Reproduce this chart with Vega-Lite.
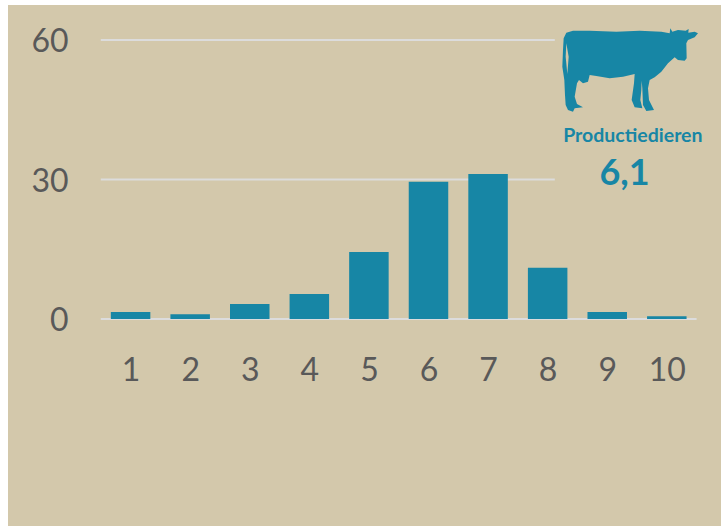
{"$schema":"https://vega.github.io/schema/vega-lite/v6.json","width":713,"height":521,"autosize":"none","padding":{"left":8,"top":5,"right":0,"bottom":0},"background":"#ffffff","view":{"fill":"#d3c8ab","stroke":null},"config":{"font":"Lato"},"datasets":{"bars":[{"k":1,"v":1.5},{"k":2,"v":1},{"k":3,"v":3.2},{"k":4,"v":5.4},{"k":5,"v":14.4},{"k":6,"v":29.5},{"k":7,"v":31.2},{"k":8,"v":11},{"k":9,"v":1.5},{"k":10,"v":0.6}],"grid":[{"from":0.5,"to":8.12,"y":60},{"from":0.5,"to":8.12,"y":30},{"from":0.5,"to":10.5,"y":0}]},"layer":[{"data":{"name":"grid"},"mark":{"type":"rule","color":"#dcdcdc","strokeWidth":1.8},"encoding":{"x":{"field":"from","type":"quantitative","scale":{"domain":[0.5,10.5],"range":[92.8,688.6],"padding":0,"nice":false,"zero":false},"axis":{"values":[1,2,3,4,5,6,7,8,9,10],"format":"d","title":null,"domain":false,"ticks":false,"grid":false,"labelFont":"Lato","labelFontSize":32,"labelColor":"#595959","labelPadding":-156,"labelBaseline":"middle","labelFlush":false,"labelOverlap":false}},"x2":{"field":"to"},"y":{"field":"y","type":"quantitative","scale":{"domain":[0,60],"range":[314,35]},"axis":{"values":[0,30,60],"title":null,"domain":false,"ticks":false,"grid":false,"labelFont":"Lato","labelFontSize":32,"labelColor":"#595959","labelPadding":-60,"labelAlign":"right","labelBaseline":"middle","labelOffset":1.5,"labelFlush":false,"labelOverlap":false}}}},{"data":{"name":"bars"},"mark":{"type":"bar","color":"#1786a5","width":39.5},"encoding":{"x":{"field":"k","type":"quantitative"},"y":{"field":"v","type":"quantitative"}}},{"data":{"values":[{"label":"Productiedieren"}]},"mark":{"type":"text","font":"Lato","fontWeight":"bold","fontSize":19.5,"color":"#1786a5","align":"center","baseline":"middle"},"encoding":{"text":{"field":"label"},"x":{"datum":9.43},"y":{"datum":39.4}}},{"data":{"values":[{"label":"6,1"}]},"mark":{"type":"text","font":"Lato","fontWeight":"bold","fontSize":36,"color":"#1786a5","align":"center","baseline":"middle"},"encoding":{"text":{"field":"label"},"x":{"datum":9.29},"y":{"datum":31.2}}},{"data":{"values":[{"label":"Koe"}]},"mark":{"type":"point","filled":true,"opacity":1,"color":"#1786a5","size":0.4444,"clip":false,"shape":"M72 115L80 98L100 92L150 92L230 95L300 92L365 95L390 100L392 85L398 95L415 90L438 92L447 87L446 98L465 95L475 100L465 112L445 120L440 130L441 175L435 182L415 180L405 172L385 190L365 215L345 232L330 240L325 265L328 300L343 330L320 333L310 315L308 265L306 242L305 270L302 300L308 325L285 322L276 300L283 250L285 222L250 230L210 235L170 228L150 225L145 245L130 250L118 240L112 250L105 290L112 312L130 322L105 325L100 335L85 330L78 315L76 285L74 240L68 200L70 150ZM80 130L78 170L83 222L87 170Z"},"encoding":{"x":{"datum":7.866},"y":{"datum":68.6},"tooltip":{"field":"label"}}}]}
